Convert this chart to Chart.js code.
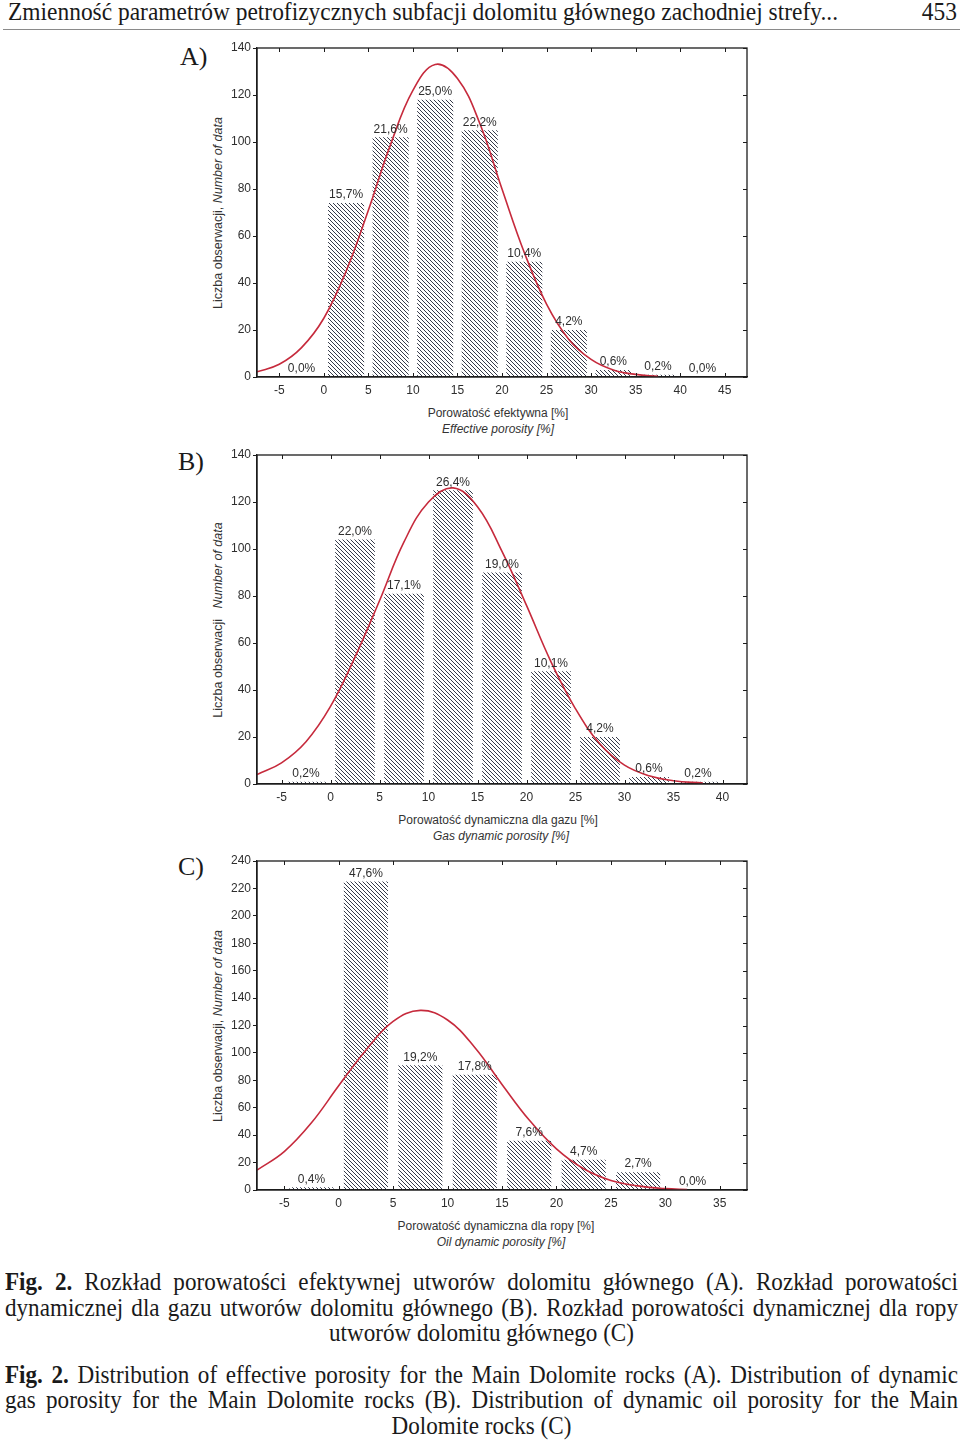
<!DOCTYPE html>
<html>
<head>
<meta charset="utf-8">
<script src="https://cdn.jsdelivr.net/npm/chart.js"></script>
<style>
  html, body { margin: 0; padding: 0; background: #fff; }
  body { position: relative; width: 960px; height: 1442px; overflow: hidden; }
  .abs { position: absolute; }
  .serif { font-family: 'Liberation Serif', 'Times New Roman', serif; color: #1a1a1a; white-space: nowrap; }
  .sans { font-family: 'Liberation Sans', Arial, sans-serif; color: #333; font-size: 12px; white-space: nowrap; }
  .ytitle { transform: translate(-50%, -50%) rotate(-90deg); font-size: 12.5px; }
  .xtitle { transform: translate(-50%, -50%); }
  .panel { font-size: 26px; line-height: 26px; }
  .cap { font-size: 26px; line-height: 26px; transform-origin: 0 0; text-align: justify; text-align-last: justify; white-space: normal; }
  .cap.center { text-align: center; text-align-last: center; }
  canvas { position: absolute; }
</style>
</head>
<body>
<div id="hdr" class="abs serif" style="left:8px; top:-1px; font-size:26px; line-height:26px; transform-origin:0 0;">Zmienność parametrów petrofizycznych subfacji dolomitu głównego zachodniej strefy...</div>
<div id="pg" class="abs serif" style="right:3px; top:-1px; font-size:26px; line-height:26px; transform-origin:100% 0;">453</div>
<div class="abs" style="left:3px; top:29px; width:957px; height:1px; background:#8a8a8a;"></div>

<div class="abs serif panel" style="left:180px; top:44px;">A)</div>
<div class="abs serif panel" style="left:178px; top:449px;">B)</div>
<div class="abs serif panel" style="left:178px; top:854px;">C)</div>

<div class="abs sans ytitle" style="left:218px; top:213px;">Liczba obserwacji, <i>Number of data</i></div>
<div class="abs sans ytitle" style="left:218px; top:620px;">Liczba obserwacji&nbsp;&nbsp; <i>Number of data</i></div>
<div class="abs sans ytitle" style="left:218px; top:1026px;">Liczba obserwacji, <i>Number of data</i></div>

<div class="abs sans xtitle" style="left:498px; top:413px;">Porowatość efektywna [%]</div>
<div class="abs sans xtitle" style="left:498px; top:429px;"><i>Effective porosity [%]</i></div>
<div class="abs sans xtitle" style="left:498px; top:820px;">Porowatość dynamiczna dla gazu [%]</div>
<div class="abs sans xtitle" style="left:501px; top:836px;"><i>Gas dynamic porosity [%]</i></div>
<div class="abs sans xtitle" style="left:496px; top:1226px;">Porowatość dynamiczna dla ropy [%]</div>
<div class="abs sans xtitle" style="left:501px; top:1242px;"><i>Oil dynamic porosity [%]</i></div>

<canvas id="chA" width="560" height="364" style="left:200px; top:38px;"></canvas>
<canvas id="chB" width="560" height="364" style="left:200px; top:445px;"></canvas>
<canvas id="chC" width="560" height="364" style="left:200px; top:851px;"></canvas>

<div class="abs serif cap" id="c1" style="left:5px; top:1269px;"><b>Fig. 2.</b> Rozkład porowatości efektywnej utworów dolomitu głównego (A). Rozkład porowatości</div>
<div class="abs serif cap" id="c2" style="left:5px; top:1295px;">dynamicznej dla gazu utworów dolomitu głównego (B). Rozkład porowatości dynamicznej dla ropy</div>
<div class="abs serif cap center" id="c3" style="left:5px; top:1320px;">utworów dolomitu głównego (C)</div>
<div class="abs serif cap" id="c4" style="left:5px; top:1362px;"><b>Fig. 2.</b> Distribution of effective porosity for the Main Dolomite rocks (A). Distribution of dynamic</div>
<div class="abs serif cap" id="c5" style="left:5px; top:1387px;">gas porosity for the Main Dolomite rocks (B). Distribution of dynamic oil porosity for the Main</div>
<div class="abs serif cap center" id="c6" style="left:5px; top:1413px;">Dolomite rocks (C)</div>

<script>
// ---------- DATA ----------
// Chart A: effective porosity
const binsA = [-2.5, 2.5, 7.5, 12.5, 17.5, 22.5, 27.5, 32.5, 37.5, 42.5];
const countsA = [0, 74, 102, 118, 105, 49, 20, 3, 1, 0];
const pctA = ['0,0%', '15,7%', '21,6%', '25,0%', '22,2%', '10,4%', '4,2%', '0,6%', '0,2%', '0,0%'];
const curveXA = [-7.5, -5, -2.5, 0, 2.5, 5, 7.5, 10, 12.5, 15, 17.5, 20, 22.5, 25, 27.5, 30, 32.5, 35, 37.5];
const curveYA = [2.2, 5.4, 12.5, 25, 45, 71, 99, 122, 133, 127, 108, 80, 53, 31, 16, 7.5, 3, 1.1, 0.3];
const xTicksA = [-5, 0, 5, 10, 15, 20, 25, 30, 35, 40, 45];
const yTicksA = [0, 20, 40, 60, 80, 100, 120, 140];

// Chart B: gas dynamic porosity
const binsB = [-2.5, 2.5, 7.5, 12.5, 17.5, 22.5, 27.5, 32.5, 37.5];
const countsB = [1, 104, 81, 125, 90, 48, 20, 3, 1];
const pctB = ['0,2%', '22,0%', '17,1%', '26,4%', '19,0%', '10,1%', '4,2%', '0,6%', '0,2%'];
const curveXB = [-7.5, -5, -2.5, 0, 2.5, 5, 7.5, 10, 12.5, 15, 17.5, 20, 22.5, 25, 27.5, 30, 32.5, 35, 38];
const curveYB = [4, 9, 18, 33, 54, 78, 103, 120, 126, 118, 99, 76, 52, 32, 17, 8, 3.5, 1.4, 0.4];
const xTicksB = [-5, 0, 5, 10, 15, 20, 25, 30, 35, 40];
const yTicksB = [0, 20, 40, 60, 80, 100, 120, 140];

// Chart C: oil dynamic porosity
const binsC = [-2.5, 2.5, 7.5, 12.5, 17.5, 22.5, 27.5, 32.5];
const countsC = [2, 225, 91, 84, 36, 22, 13, 0];
const pctC = ['0,4%', '47,6%', '19,2%', '17,8%', '7,6%', '4,7%', '2,7%', '0,0%'];
const curveXC = [-7.5, -5, -2.5, 0, 2.5, 5, 7.5, 10, 12.5, 15, 17.5, 20, 22.5, 25, 27.5, 30, 32];
const curveYC = [14.5, 28, 49, 76, 102, 123, 131, 124, 104, 77, 51, 30, 15.5, 7, 3, 1, 0.4];
const xTicksC = [-5, 0, 5, 10, 15, 20, 25, 30, 35];
const yTicksC = [0, 20, 40, 60, 80, 100, 120, 140, 160, 180, 200, 220, 240];

// ---------- TEXT FITTING ----------
(function () {
  const hdr = document.getElementById('hdr');
  const s = 830 / hdr.getBoundingClientRect().width;
  hdr.style.transform = 'scaleX(' + s + ')';
  document.getElementById('pg').style.transform = 'scaleX(' + s + ')';
  const probe = document.createElement('span');
  probe.className = 'serif';
  probe.style.cssText = 'position:absolute;left:0;top:0;font-size:26px;visibility:hidden;';
  probe.textContent = 'utworów dolomitu głównego (C)';
  document.body.appendChild(probe);
  const cs = 305 / probe.getBoundingClientRect().width;
  probe.remove();
  ['c1', 'c2', 'c3', 'c4', 'c5', 'c6'].forEach(id => {
    const el = document.getElementById(id);
    el.style.width = (953 / cs) + 'px';
    el.style.transform = 'scaleX(' + cs + ')';
  });
})();

// ---------- CHARTS ----------
const FONT = { family: "'Liberation Sans', Arial, sans-serif", size: 12 };
const TXT = '#2e2e2e';
const AX = '#1c1c1c';

function hatchPattern() {
  const c = document.createElement('canvas');
  c.width = 4; c.height = 4;
  const g = c.getContext('2d');
  g.strokeStyle = '#363b4a';
  g.lineWidth = 1;
  g.beginPath();
  g.moveTo(-1, -1); g.lineTo(5, 5);
  g.moveTo(-1, 3); g.lineTo(1, 5);
  g.moveTo(3, -1); g.lineTo(5, 1);
  g.stroke();
  return g.createPattern(c, 'repeat');
}

const framePlugin = {
  id: 'frame',
  afterDraw(chart) {
    const { ctx, chartArea: a, scales } = chart;
    ctx.save();
    ctx.strokeStyle = AX;
    ctx.lineWidth = 1.3;
    ctx.strokeRect(a.left, a.top, a.right - a.left, a.bottom - a.top);
    ctx.lineWidth = 1;
    ctx.beginPath();
    scales.x.ticks.forEach(t => {
      const px = Math.round(scales.x.getPixelForValue(t.value)) + 0.5;
      ctx.moveTo(px, a.top); ctx.lineTo(px, a.top + 4);
      ctx.moveTo(px, a.bottom); ctx.lineTo(px, a.bottom - 4);
    });
    scales.y.ticks.forEach(t => {
      const py = Math.round(scales.y.getPixelForValue(t.value)) + 0.5;
      ctx.moveTo(a.right, py); ctx.lineTo(a.right - 4, py);
    });
    ctx.stroke();
    ctx.restore();
  }
};

const labelPlugin = {
  id: 'barLabels',
  afterDatasetsDraw(chart, args, opts) {
    const { ctx } = chart;
    const idx = chart.data.datasets.findIndex(d => d.type === 'bar');
    const meta = chart.getDatasetMeta(idx);
    ctx.save();
    ctx.font = "12px 'Liberation Sans', Arial, sans-serif";
    ctx.fillStyle = TXT;
    ctx.textAlign = 'center';
    ctx.textBaseline = 'bottom';
    meta.data.forEach((el, i) => {
      ctx.fillText(opts.labels[i], el.x, el.y - 2);
    });
    ctx.restore();
  }
};

function makeChart(id, bins, counts, pct, cx, cy, xTicks, yTicks, xmin, xmax) {
  const ymax = yTicks[yTicks.length - 1];
  return new Chart(document.getElementById(id), {
    type: 'bar',
    data: {
      datasets: [
        {
          type: 'line',
          data: cx.map((x, i) => ({ x: x, y: cy[i] })),
          borderColor: '#c62a3c',
          borderWidth: 1.6,
          pointRadius: 0,
          tension: 0.4,
          fill: false,
          order: 0
        },
        {
          type: 'bar',
          data: bins.map((x, i) => ({ x: x, y: counts[i] })),
          backgroundColor: hatchPattern(),
          borderWidth: 0,
          barPercentage: 1,
          categoryPercentage: 0.81,
          order: 1
        }
      ]
    },
    options: {
      responsive: false,
      animation: false,
      devicePixelRatio: 1,
      layout: { padding: { top: 10, right: 13, left: 0, bottom: 0 } },
      plugins: {
        legend: { display: false },
        tooltip: { enabled: false },
        barLabels: { labels: pct }
      },
      scales: {
        x: {
          type: 'linear',
          min: xmin, max: xmax,
          offset: false,
          afterBuildTicks: s => { s.ticks = xTicks.map(v => ({ value: v })); },
          afterFit: s => { s.height = 25; },
          ticks: { font: FONT, color: TXT, padding: 6, maxRotation: 0, autoSkip: false },
          grid: { drawOnChartArea: false, drawTicks: false, color: AX, offset: false },
          border: { color: AX, width: 1.3 }
        },
        y: {
          min: 0, max: ymax,
          afterBuildTicks: s => { s.ticks = yTicks.map(v => ({ value: v })); },
          afterFit: s => { s.width = 57; },
          ticks: { font: FONT, color: TXT, padding: 2, autoSkip: false },
          grid: { drawOnChartArea: false, tickLength: 4, color: AX },
          border: { color: AX, width: 1.3 }
        }
      }
    },
    plugins: [framePlugin, labelPlugin]
  });
}

makeChart('chA', binsA, countsA, pctA, curveXA, curveYA, xTicksA, yTicksA, -7.5, 47.5);
makeChart('chB', binsB, countsB, pctB, curveXB, curveYB, xTicksB, yTicksB, -7.5, 42.5);
makeChart('chC', binsC, countsC, pctC, curveXC, curveYC, xTicksC, yTicksC, -7.5, 37.5);
</script>
</body>
</html>
